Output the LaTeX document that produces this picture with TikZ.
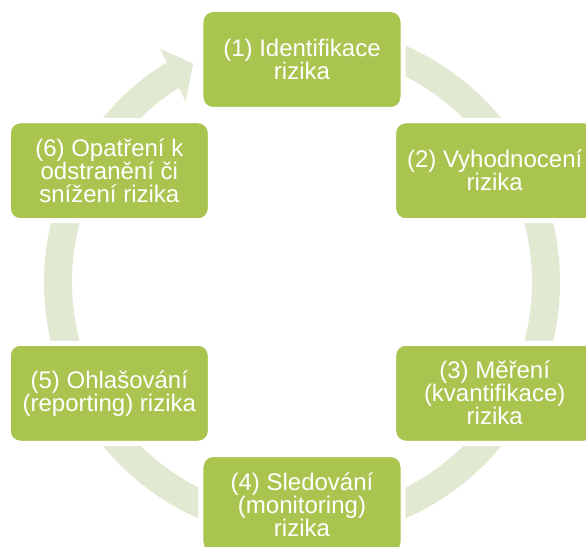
\documentclass[tikz,border=0pt]{standalone}
\usepackage{fontspec}
\setmainfont{Liberation Sans}
\definecolor{zelena}{HTML}{A9C550}
\definecolor{kruh}{HTML}{E1E9D3}
\begin{document}
\begin{tikzpicture}[x=1pt, y=1pt, line join=round,
	krok/.style={rectangle, rounded corners=12pt, fill=zelena, draw=white, line width=5pt,
		minimum width=202pt, minimum height=100pt, inner sep=0pt, align=center,
		text=white, font=\fontsize{24}{23}\selectfont}]
			\def\r{222.5} \def\R{244} \def\w{28} % Polomery
			\useasboundingbox (-302,-264) rectangle (284,282);
			\draw[kruh, line width=\w] (90:\R) arc[start angle=90, end angle=-238.3, radius=\R];
			\fill[kruh] (121.3:273)--(116.5:244)--(122.8:215)--cycle;
			\node[krok] (k1) at (90:\r) {(1) Identifikace\\rizika};
			\node[krok] (k2) at (30:\r) {(2) Vyhodnocení\\rizika};
			\node[krok] (k3) at (-30:\r) {(3) Měření\\(kvantifikace)\\rizika};
			\node[krok] (k4) at (-90:\r) {(4) Sledování\\(monitoring)\\rizika};
			\node[krok] (k5) at (-150:\r) {(5) Ohlašování\\(reporting) rizika};
			\node[krok] (k6) at (150:\r) {(6) Opatření k\\odstranění či\\snížení rizika};
		\end{tikzpicture}
\end{document}
